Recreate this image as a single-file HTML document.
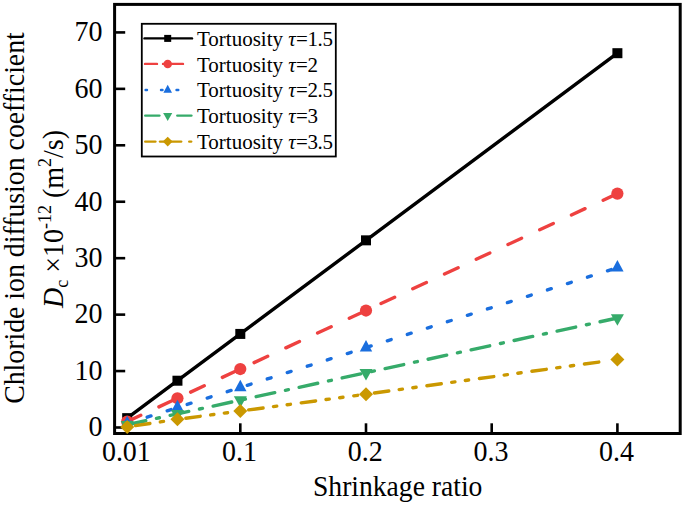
<!DOCTYPE html>
<html><head><meta charset="utf-8"><style>
html,body{margin:0;padding:0;background:#fff;width:685px;height:505px;overflow:hidden}
svg{display:block}
text{font-family:"Liberation Serif",serif;fill:#000}
.tk{font-size:28px}
.lg{font-size:21px}
.ax{font-size:28px}
</style></head><body>
<svg width="685" height="505" viewBox="0 0 685 505">
<rect x="114.6" y="4.4" width="565.6" height="429.1" fill="none" stroke="#000" stroke-width="3"/>
<line x1="114.6" y1="427.50" x2="125.2" y2="427.50" stroke="#000" stroke-width="2.6"/>
<text transform="translate(102.5,436.30) scale(1,1.07)" text-anchor="end" class="tk">0</text>
<line x1="114.6" y1="371.06" x2="125.2" y2="371.06" stroke="#000" stroke-width="2.6"/>
<text transform="translate(102.5,379.86) scale(1,1.07)" text-anchor="end" class="tk">10</text>
<line x1="114.6" y1="314.62" x2="125.2" y2="314.62" stroke="#000" stroke-width="2.6"/>
<text transform="translate(102.5,323.42) scale(1,1.07)" text-anchor="end" class="tk">20</text>
<line x1="114.6" y1="258.18" x2="125.2" y2="258.18" stroke="#000" stroke-width="2.6"/>
<text transform="translate(102.5,266.98) scale(1,1.07)" text-anchor="end" class="tk">30</text>
<line x1="114.6" y1="201.74" x2="125.2" y2="201.74" stroke="#000" stroke-width="2.6"/>
<text transform="translate(102.5,210.54) scale(1,1.07)" text-anchor="end" class="tk">40</text>
<line x1="114.6" y1="145.30" x2="125.2" y2="145.30" stroke="#000" stroke-width="2.6"/>
<text transform="translate(102.5,154.10) scale(1,1.07)" text-anchor="end" class="tk">50</text>
<line x1="114.6" y1="88.86" x2="125.2" y2="88.86" stroke="#000" stroke-width="2.6"/>
<text transform="translate(102.5,97.66) scale(1,1.07)" text-anchor="end" class="tk">60</text>
<line x1="114.6" y1="32.42" x2="125.2" y2="32.42" stroke="#000" stroke-width="2.6"/>
<text transform="translate(102.5,41.22) scale(1,1.07)" text-anchor="end" class="tk">70</text>
<line x1="127.17" y1="433.5" x2="127.17" y2="423.3" stroke="#000" stroke-width="2.6"/>
<text transform="translate(126.37,460.6) scale(1,1.07)" text-anchor="middle" class="tk">0.01</text>
<line x1="240.30" y1="433.5" x2="240.30" y2="423.3" stroke="#000" stroke-width="2.6"/>
<text transform="translate(239.50,460.6) scale(1,1.07)" text-anchor="middle" class="tk">0.1</text>
<line x1="366.00" y1="433.5" x2="366.00" y2="423.3" stroke="#000" stroke-width="2.6"/>
<text transform="translate(365.20,460.6) scale(1,1.07)" text-anchor="middle" class="tk">0.2</text>
<line x1="491.70" y1="433.5" x2="491.70" y2="423.3" stroke="#000" stroke-width="2.6"/>
<text transform="translate(490.90,460.6) scale(1,1.07)" text-anchor="middle" class="tk">0.3</text>
<line x1="617.40" y1="433.5" x2="617.40" y2="423.3" stroke="#000" stroke-width="2.6"/>
<text transform="translate(616.60,460.6) scale(1,1.07)" text-anchor="middle" class="tk">0.4</text>
<polyline points="127.17,418.14 177.45,380.71 240.30,333.92 366.00,240.34 617.40,53.19" fill="none" stroke="#000000" stroke-width="3.4" stroke-linecap="round" stroke-linejoin="round"/>
<rect x="122.17" y="413.14" width="10.00" height="10.00" fill="#000000"/>
<rect x="172.45" y="375.71" width="10.00" height="10.00" fill="#000000"/>
<rect x="235.30" y="328.92" width="10.00" height="10.00" fill="#000000"/>
<rect x="361.00" y="235.34" width="10.00" height="10.00" fill="#000000"/>
<rect x="612.40" y="48.19" width="10.00" height="10.00" fill="#000000"/>
<polyline points="127.17,421.65 177.45,398.26 240.30,369.03 366.00,310.56 617.40,193.61" fill="none" stroke="#EE4140" stroke-width="3.4" stroke-linecap="round" stroke-linejoin="round" stroke-dasharray="15 20"/>
<circle cx="127.17" cy="421.65" r="6.10" fill="#EE4140"/>
<circle cx="177.45" cy="398.26" r="6.10" fill="#EE4140"/>
<circle cx="240.30" cy="369.03" r="6.10" fill="#EE4140"/>
<circle cx="366.00" cy="310.56" r="6.10" fill="#EE4140"/>
<circle cx="617.40" cy="193.61" r="6.10" fill="#EE4140"/>
<polyline points="127.17,423.50 177.45,407.52 240.30,387.54 366.00,347.58 617.40,267.66" fill="none" stroke="#1A6EDE" stroke-width="3.4" stroke-linecap="round" stroke-linejoin="round" stroke-dasharray="4 17"/>
<polygon points="127.17,415.84 133.37,427.34 120.97,427.34" fill="#1A6EDE"/>
<polygon points="177.45,399.85 183.65,411.35 171.25,411.35" fill="#1A6EDE"/>
<polygon points="240.30,379.87 246.50,391.37 234.10,391.37" fill="#1A6EDE"/>
<polygon points="366.00,339.91 372.20,351.41 359.80,351.41" fill="#1A6EDE"/>
<polygon points="617.40,260.00 623.60,271.50 611.20,271.50" fill="#1A6EDE"/>
<polyline points="127.17,424.76 177.45,413.81 240.30,400.13 366.00,372.75 617.40,318.01" fill="none" stroke="#36AB6A" stroke-width="3.4" stroke-linecap="round" stroke-linejoin="round" stroke-dasharray="19 11 3 11"/>
<polygon points="120.67,420.93 133.67,420.93 127.17,432.43" fill="#36AB6A"/>
<polygon points="170.95,409.98 183.95,409.98 177.45,421.48" fill="#36AB6A"/>
<polygon points="233.80,396.29 246.80,396.29 240.30,407.79" fill="#36AB6A"/>
<polygon points="359.50,368.92 372.50,368.92 366.00,380.42" fill="#36AB6A"/>
<polygon points="610.90,314.17 623.90,314.17 617.40,325.67" fill="#36AB6A"/>
<line x1="135.57" y1="425.66" x2="169.05" y2="420.59" stroke="#CA9800" stroke-width="3.4" stroke-linecap="round" stroke-dasharray="14.5 10.5 3.3 10.5 3.3 10.9"/>
<line x1="185.85" y1="418.21" x2="231.90" y2="412.13" stroke="#CA9800" stroke-width="3.4" stroke-linecap="round" stroke-dasharray="14.5 10.5 3.3 10.5 3.3 10.9"/>
<line x1="248.70" y1="409.90" x2="357.60" y2="395.32" stroke="#CA9800" stroke-width="3.4" stroke-linecap="round" stroke-dasharray="14.5 10.5 3.3 10.5 3.3 10.9"/>
<line x1="374.40" y1="393.04" x2="609.00" y2="360.65" stroke="#CA9800" stroke-width="3.4" stroke-linecap="round" stroke-dasharray="14.5 10.5 3.3 10.5 3.3 10.9"/>
<polygon points="127.17,419.94 134.17,426.94 127.17,433.94 120.17,426.94" fill="#CA9800"/>
<polygon points="177.45,412.32 184.45,419.32 177.45,426.32 170.45,419.32" fill="#CA9800"/>
<polygon points="240.30,404.02 247.30,411.02 240.30,418.02 233.30,411.02" fill="#CA9800"/>
<polygon points="366.00,387.20 373.00,394.20 366.00,401.20 359.00,394.20" fill="#CA9800"/>
<polygon points="617.40,352.49 624.40,359.49 617.40,366.49 610.40,359.49" fill="#CA9800"/>
<rect x="141.8" y="23.8" width="194.0" height="132.7" fill="#fff" stroke="#000" stroke-width="1.8"/>
<line x1="144.5" y1="38.4" x2="192.0" y2="38.4" stroke="#000000" stroke-width="2.4" stroke-linecap="round"/>
<rect x="164.20" y="34.90" width="7.00" height="7.00" fill="#000000"/>
<text transform="translate(197,46.1) scale(1,1.03)" class="lg">Tortuosity <tspan letter-spacing="-0.4"><tspan font-style="italic">τ</tspan><tspan dx="0.8">=</tspan>1.5</tspan></text>
<line x1="145.0" y1="63.9" x2="157.0" y2="63.9" stroke="#EE4140" stroke-width="2.4" stroke-linecap="round"/>
<line x1="163.0" y1="63.9" x2="183.0" y2="63.9" stroke="#EE4140" stroke-width="2.4" stroke-linecap="round"/>
<circle cx="167.70" cy="63.90" r="4.27" fill="#EE4140"/>
<text transform="translate(197,71.7) scale(1,1.03)" class="lg">Tortuosity <tspan letter-spacing="-0.4"><tspan font-style="italic">τ</tspan><tspan dx="0.8">=</tspan>2</tspan></text>
<line x1="145.6" y1="90.0" x2="147.0" y2="90.0" stroke="#1A6EDE" stroke-width="2.4" stroke-linecap="round"/>
<line x1="161.0" y1="90.0" x2="162.5" y2="90.0" stroke="#1A6EDE" stroke-width="2.4" stroke-linecap="round"/>
<line x1="176.5" y1="90.0" x2="178.3" y2="90.0" stroke="#1A6EDE" stroke-width="2.4" stroke-linecap="round"/>
<polygon points="167.70,84.63 172.04,92.68 163.36,92.68" fill="#1A6EDE"/>
<text transform="translate(197,97.3) scale(1,1.03)" class="lg">Tortuosity <tspan letter-spacing="-0.4"><tspan font-style="italic">τ</tspan><tspan dx="0.8">=</tspan>2.5</tspan></text>
<line x1="145.2" y1="115.6" x2="159.4" y2="115.6" stroke="#36AB6A" stroke-width="2.4" stroke-linecap="round"/>
<line x1="177.3" y1="115.6" x2="191.4" y2="115.6" stroke="#36AB6A" stroke-width="2.4" stroke-linecap="round"/>
<polygon points="163.15,112.92 172.25,112.92 167.70,120.97" fill="#36AB6A"/>
<text transform="translate(197,122.9) scale(1,1.03)" class="lg">Tortuosity <tspan letter-spacing="-0.4"><tspan font-style="italic">τ</tspan><tspan dx="0.8">=</tspan>3</tspan></text>
<line x1="145.2" y1="141.6" x2="155.4" y2="141.6" stroke="#CA9800" stroke-width="2.4" stroke-linecap="round"/>
<line x1="160.0" y1="141.6" x2="181.2" y2="141.6" stroke="#CA9800" stroke-width="2.4" stroke-linecap="round"/>
<line x1="189.2" y1="141.6" x2="191.2" y2="141.6" stroke="#CA9800" stroke-width="2.4" stroke-linecap="round"/>
<polygon points="167.70,136.70 172.60,141.60 167.70,146.50 162.80,141.60" fill="#CA9800"/>
<text transform="translate(197,148.5) scale(1,1.03)" class="lg">Tortuosity <tspan letter-spacing="-0.4"><tspan font-style="italic">τ</tspan><tspan dx="0.8">=</tspan>3.5</tspan></text>
<text transform="translate(397.7,496.3) scale(0.986,1.07)" text-anchor="middle" class="ax">Shrinkage ratio</text>
<text transform="translate(24,218) rotate(-90) scale(1,1.06)" text-anchor="middle" class="ax" style="font-size:27.8px">Chloride ion diffusion coefficient</text>
<text transform="translate(62.7,219) rotate(-90) scale(1,1.06)" text-anchor="middle" class="ax"><tspan font-style="italic">D</tspan><tspan font-size="18" dy="5">c</tspan><tspan dy="-5"> ×10</tspan><tspan font-size="18" dy="-11">-12</tspan><tspan dy="11"> (m</tspan><tspan font-size="18" dy="-11">2</tspan><tspan dy="11">/s)</tspan></text>
</svg>
</body></html>
